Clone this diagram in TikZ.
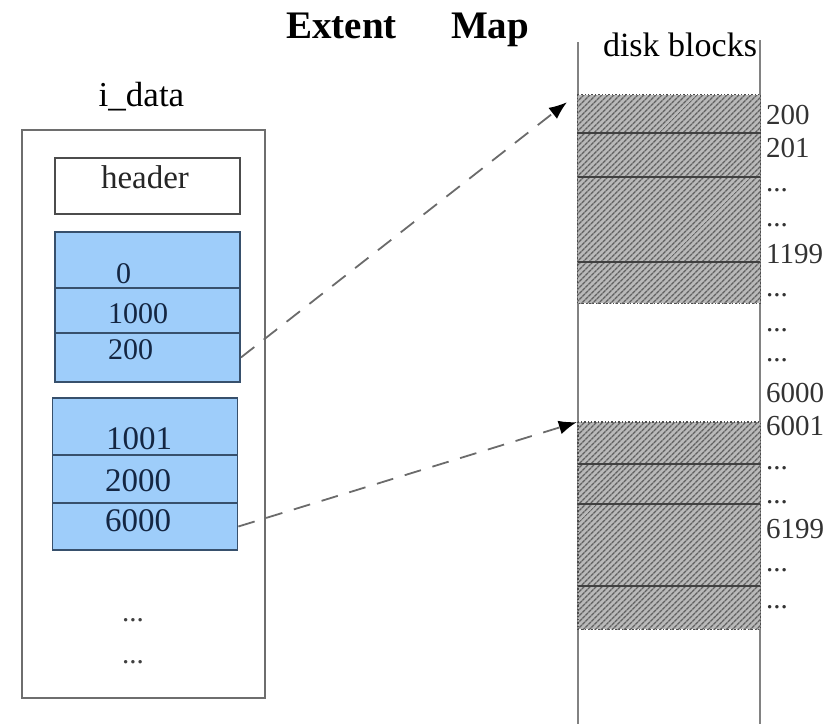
\documentclass[tikz,border=0pt]{standalone}
\usepackage{fontspec}
\setmainfont{Liberation Serif}
\usetikzlibrary{arrows.meta,patterns.meta}
\definecolor{cellblue}{RGB}{158,205,250}
\definecolor{cellline}{RGB}{55,80,108}
\definecolor{celltext}{RGB}{20,38,66}
\definecolor{boxgray}{RGB}{110,110,110}
\definecolor{colgray}{RGB}{130,130,130}
\tikzset{
  outerbox/.style={draw=boxgray,line width=1.8pt,inner sep=0pt},
  headbox/.style={draw=black!70,line width=1.6pt,inner sep=0pt},
  cellbox/.style={draw=cellline,fill=cellblue,line width=1.8pt,inner sep=0pt,minimum width=185pt},
  celltxt/.style={anchor=base west,inner sep=0pt,text=celltext},
  hatchrow/.style={inner sep=0pt,minimum width=182pt,
     preaction={fill=gray!55},
     pattern={Lines[angle=45,distance=4pt,line width=1.6pt]},pattern color=black!62},
  divider/.style={draw=black!75,line width=1.7pt},
  hatchedge/.style={draw=black!70,line width=1.4pt,dotted},
  column/.style={draw=colgray,line width=1.8pt},
  lbl/.style={anchor=base west,inner sep=0pt,font=\fontsize{29}{32}\selectfont,text=black!80},
  ptr/.style={draw=black!58,line width=1.8pt,dash pattern=on 17pt off 12pt,
     -{Latex[color=black,length=18pt,width=14pt]}},
}
\begin{document}
\begin{tikzpicture}[x=1pt,y=-1pt]
\useasboundingbox (0,0) rectangle (836,724);
% title
\node[anchor=base,inner sep=0pt,font=\fontsize{39}{44}\selectfont\bfseries] (t1) at (341.5,38) {Extent};
\node[anchor=base,inner sep=0pt,font=\fontsize{39}{44}\selectfont\bfseries] (t2) at (490,38) {Map};
% i_data
\node[anchor=base,inner sep=0pt,font=\fontsize{35}{38}\selectfont] (idl) at (141.5,106) {i\_data};
\node[outerbox,minimum width=243pt,minimum height=568pt] (outer) at (143.5,414) {};
\node[headbox,minimum width=185pt,minimum height=56pt] (head) at (147.5,186) {};
\node[anchor=base,inner sep=0pt,font=\fontsize{33}{36}\selectfont,text=black!85] (headt) at (145,188) {header};
% extent 1
\node[cellbox,minimum height=56pt] (b1a) at (147.5,260) {};
\node[cellbox,minimum height=45pt] (b1b) at (147.5,310.5) {};
\node[cellbox,minimum height=49pt] (b1c) at (147.5,357.5) {};
\node[celltxt,font=\fontsize{30}{32}\selectfont] (b1at) at (116,283) {0};
\node[celltxt,font=\fontsize{30}{32}\selectfont] (b1bt) at (108,323) {1000};
\node[celltxt,font=\fontsize{30}{32}\selectfont] (b1ct) at (108,359) {200};
% extent 2
\node[cellbox,minimum height=57pt] (b2a) at (145,426.5) {};
\node[cellbox,minimum height=48pt] (b2b) at (145,479) {};
\node[cellbox,minimum height=47pt] (b2c) at (145,526.5) {};
\node[celltxt,font=\fontsize{33}{36}\selectfont] (b2at) at (106,449) {1001};
\node[celltxt,font=\fontsize{33}{36}\selectfont] (b2bt) at (105,491) {2000};
\node[celltxt,font=\fontsize{33}{36}\selectfont] (b2ct) at (105,531) {6000};
% dots in i_data
\node[anchor=base,inner sep=0pt,font=\fontsize{29}{32}\selectfont,text=black!75] (id1) at (133,621) {...};
\node[anchor=base,inner sep=0pt,font=\fontsize{29}{32}\selectfont,text=black!75] (id2) at (133,663) {...};
% disk column
\coordinate (cl1) at (578,42);
\coordinate (cl2) at (578,724);
\coordinate (cr1) at (760,40);
\coordinate (cr2) at (760,724);
\draw[column] (cl1) -- (cl2);
\draw[column] (cr1) -- (cr2);
\node[anchor=base,inner sep=0pt,font=\fontsize{34}{36}\selectfont] (dbl) at (680,56) {disk blocks};
% hatched region 1
\node[hatchrow,minimum height=37pt] (d1a) at (669,113.5) {};
\node[hatchrow,minimum height=45pt] (d1b) at (669,154.5) {};
\node[hatchrow,minimum height=85pt] (d1c) at (669,219.5) {};
\node[hatchrow,minimum height=41pt] (d1d) at (669,282.5) {};
\draw[hatchedge] (d1a.north west) rectangle (d1d.south east);
\draw[divider] (d1a.south west) -- (d1a.south east);
\draw[divider] (d1b.south west) -- (d1b.south east);
\draw[divider] (d1c.south west) -- (d1c.south east);
% hatched region 2
\node[hatchrow,minimum height=42pt] (d2a) at (669,443) {};
\node[hatchrow,minimum height=40pt] (d2b) at (669,484) {};
\node[hatchrow,minimum height=82pt] (d2c) at (669,545) {};
\node[hatchrow,minimum height=43pt] (d2d) at (669,607.5) {};
\draw[hatchedge] (d2a.north west) rectangle (d2d.south east);
\draw[divider] (d2a.south west) -- (d2a.south east);
\draw[divider] (d2b.south west) -- (d2b.south east);
\draw[divider] (d2c.south west) -- (d2c.south east);
% block labels
\node[lbl] (l1) at (766,124) {200};
\node[lbl] (l2) at (766,157) {201};
\node[lbl] (l3) at (766,191) {...};
\node[lbl] (l4) at (766,226) {...};
\node[lbl] (l5) at (766,263) {1199};
\node[lbl] (l6) at (766,296) {...};
\node[lbl] (l7) at (766,331) {...};
\node[lbl] (l8) at (766,361) {...};
\node[lbl] (l9) at (766,402) {6000};
\node[lbl] (l10) at (766,435) {6001};
\node[lbl] (l11) at (766,469) {...};
\node[lbl] (l12) at (766,503) {...};
\node[lbl] (l13) at (766,538) {6199};
\node[lbl] (l14) at (766,571) {...};
\node[lbl] (l15) at (766,608) {...};
% pointers
\draw[ptr,shorten >=13pt] (b1c.east) -- (d1a.north west);
\draw[ptr,shorten >=1pt] (b2c.east) -- (d2a.north west);
\end{tikzpicture}
\end{document}
